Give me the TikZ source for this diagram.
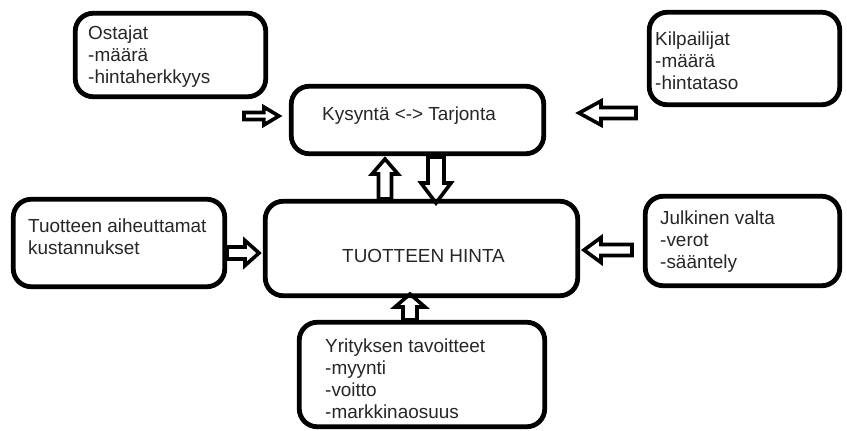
\documentclass[tikz,border=0pt]{standalone}
\usepackage{fontspec}
\setmainfont{Liberation Sans}
\usetikzlibrary{calc}
% #1 tail, #2 tip, #3 shaft half width, #4 head half width, #5 head length
\newcommand\blockarrow[5]{%
  \coordinate (hb) at ($(#2)!#5!(#1)$);
  \draw[blockarr] ($(#1)!#3!90:(#2)$) -- ($(hb)!#3!90:(#2)$) -- ($(hb)!#4!90:(#2)$)
    -- (#2) -- ($(hb)!#4!-90:(#2)$) -- ($(hb)!#3!-90:(#2)$) -- ($(#1)!#3!-90:(#2)$) -- cycle;}
\begin{document}
\begin{tikzpicture}[x=1bp,y=-1bp,
  box/.style={draw, line width=4.8bp, rounded corners=18bp, inner sep=0pt},
  txt/.style={anchor=north west, inner sep=0pt, align=left, font=\fontsize{19}{22}\selectfont, text=black!85},
  ctxt/.style={anchor=base west, inner sep=0pt, font=\fontsize{19}{22}\selectfont, text=black!85},
  blockarr/.style={draw, line width=3.6bp, line join=miter}]
\useasboundingbox (0,0) rectangle (847,430);
% boxes
\node[box, minimum width=190.5bp, minimum height=83.5bp] (ostajat) at (170.5,55) {};
\node[box, minimum width=252.5bp, minimum height=67.5bp] (kys) at (417.5,120) {};
\node[box, minimum width=190.5bp, minimum height=92.5bp] (kilp) at (744.5,58.5) {};
\node[box, minimum width=211.5bp, minimum height=87.5bp] (kust) at (119,243) {};
\node[box, minimum width=312.5bp, minimum height=94.5bp] (hinta) at (421.5,248.5) {};
\node[box, minimum width=194.5bp, minimum height=89.5bp] (julk) at (742.5,241) {};
\node[box, minimum width=245.5bp, minimum height=104.5bp] (yrit) at (422,374.5) {};
% texts
\node[txt] (tostajat) at (88,25.5) {Ostajat\\-määrä\\-hintaherkkyys};
\node[txt] (tkilp) at (655,31.5) {Kilpailijat\\-määrä\\-hintataso};
\node[txt] (tkust) at (28,219) {Tuotteen aiheuttamat\\kustannukset};
\node[txt] (tjulk) at (660,211) {Julkinen valta\\-verot\\-sääntely};
\node[txt] (tyrit) at (325,339) {Yrityksen tavoitteet\\-myynti\\-voitto\\-markkinaosuus};
\node[ctxt] (tkys) at (322,120) {Kysyntä <-> Tarjonta};
\node[ctxt] (thinta) at (342,262) {TUOTTEEN HINTA};
% arrow ends
\coordinate (a1s) at (244,116);
\coordinate (a1e) at ($(kys.west |- a1s)+(-10,0)$);
\coordinate (a2s) at (636,113);
\coordinate (a2e) at (579,113);
\coordinate (a3s) at (385,199);
\coordinate (a3e) at (385,159);
\coordinate (a4s) at (436,157);
\coordinate (a4e) at (436,203);
\coordinate (a5s) at (kust.east |- 0,253);
\coordinate (a5e) at (259,253);
\coordinate (a6s) at (632,250);
\coordinate (a6e) at (584,250);
\coordinate (a7s) at (yrit.north -| 410,0);
\coordinate (a7e) at (410,294);
% block arrows
\blockarrow{a1s}{a1e}{3.5bp}{9bp}{15bp}
\blockarrow{a2s}{a2e}{5.5bp}{12bp}{22bp}
\blockarrow{a3s}{a3e}{6.5bp}{13bp}{15bp}
\blockarrow{a4s}{a4e}{8bp}{15bp}{20bp}
\blockarrow{a5s}{a5e}{6bp}{12.5bp}{14bp}
\blockarrow{a6s}{a6e}{5.5bp}{12.5bp}{17bp}
\blockarrow{a7s}{a7e}{7bp}{15bp}{13bp}
\end{tikzpicture}
\end{document}
